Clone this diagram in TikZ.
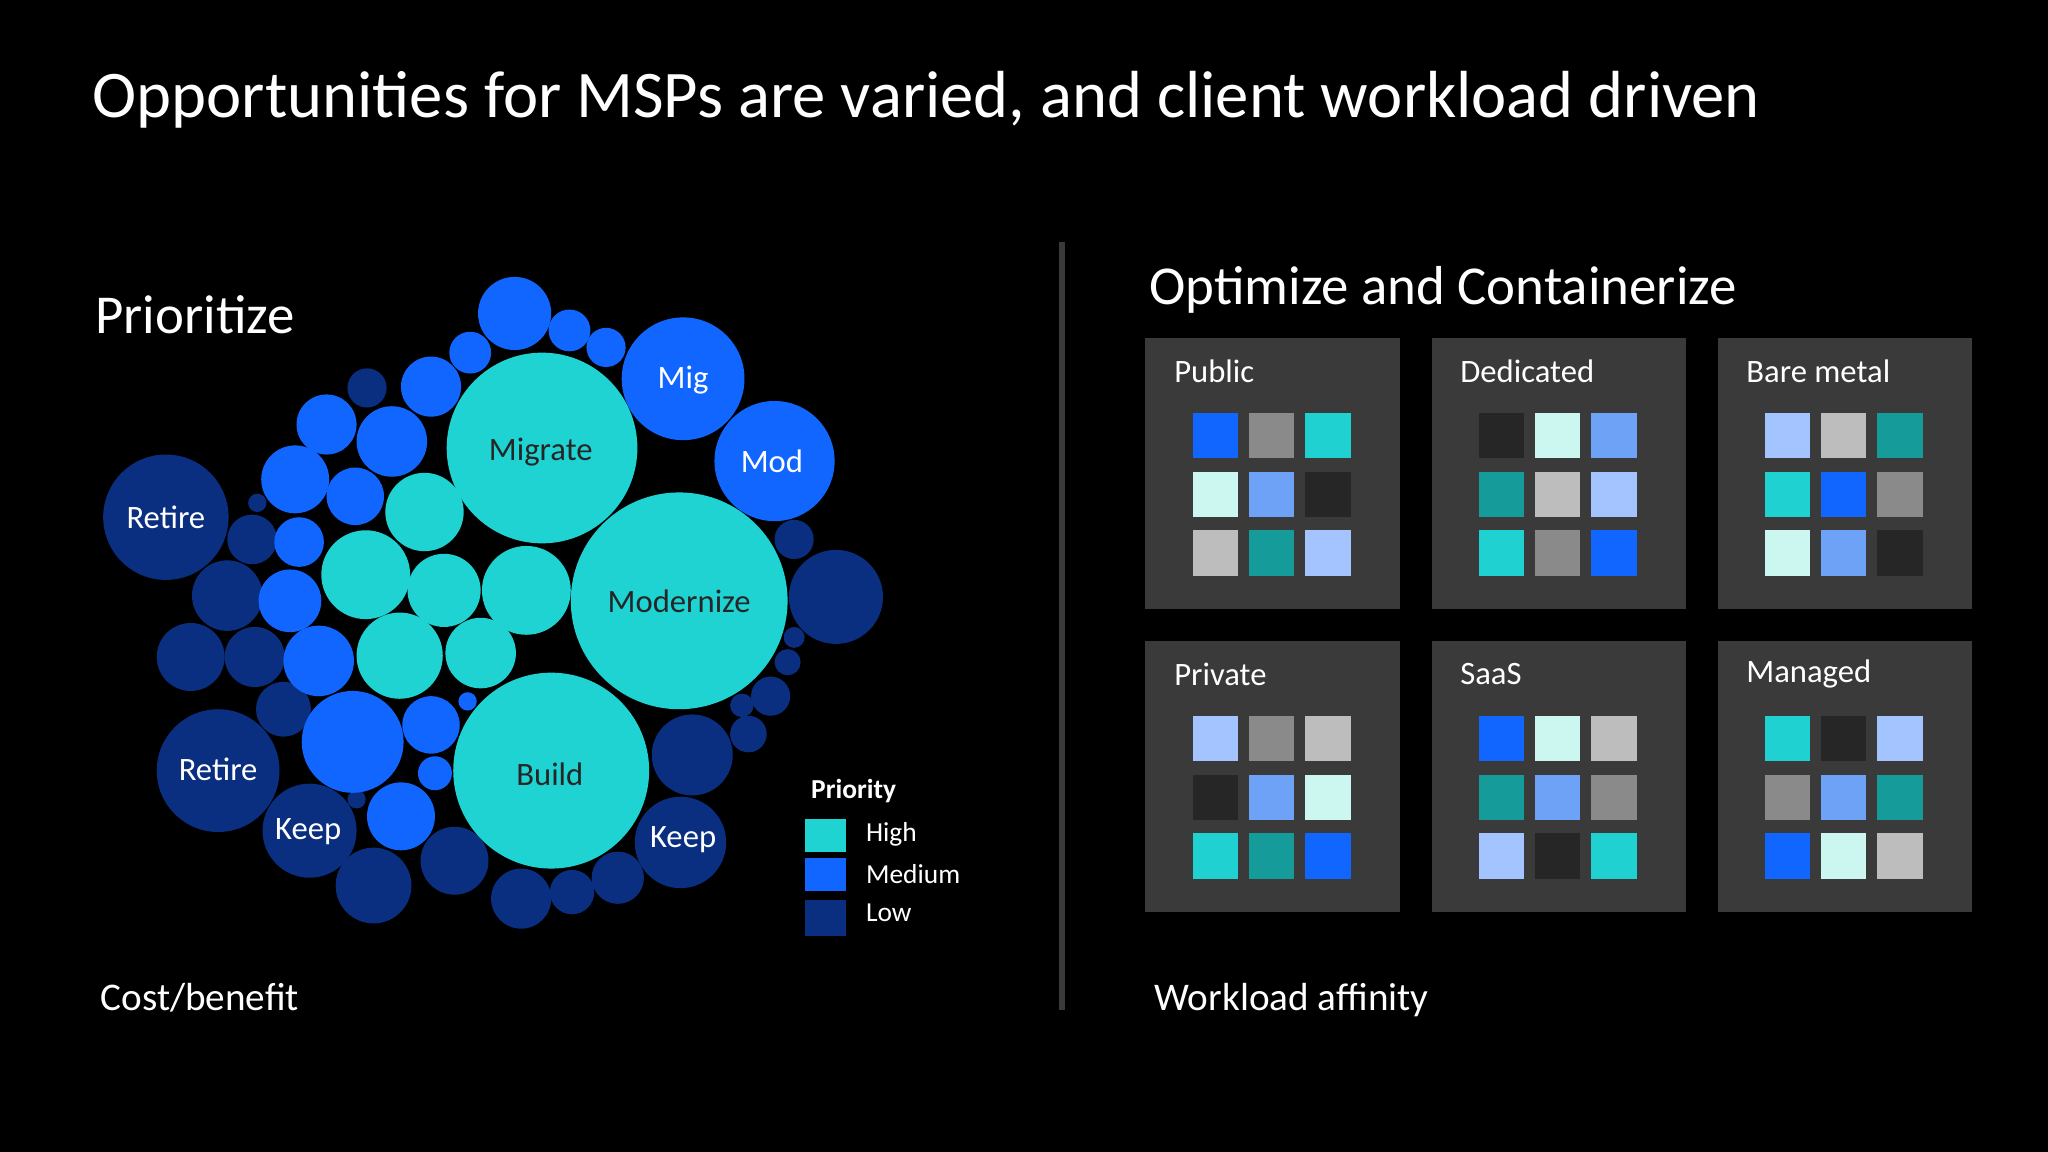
\documentclass[tikz,border=0pt]{standalone}
\usepackage{fontspec}
\setmainfont{Carlito}
\definecolor{hi}{HTML}{1FD3D3}
\definecolor{me}{HTML}{1166FF}
\definecolor{lo}{HTML}{0A2F80}
\definecolor{B}{HTML}{1166FF}
\definecolor{G}{HTML}{8A8A8A}
\definecolor{C}{HTML}{1FD1D1}
\definecolor{P}{HTML}{CCF6F0}
\definecolor{L}{HTML}{6EA2F6}
\definecolor{D}{HTML}{262626}
\definecolor{S}{HTML}{BDBDBD}
\definecolor{T}{HTML}{169B9B}
\definecolor{V}{HTML}{A3C4FF}
\definecolor{boxc}{HTML}{3A3A3A}
\begin{document}
\begin{tikzpicture}[x=0.5pt,y=-0.5pt,
  lbl/.style={text=white,font=\fontsize{12.5}{14}\selectfont},
  blbl/.style={text=D,font=\fontsize{12.5}{14}\selectfont},
  head/.style={text=white,font=\fontsize{21}{24}\selectfont,anchor=base west},
  foot/.style={text=white,font=\fontsize{15}{18}\selectfont,anchor=base west},
  box/.style={fill=boxc,draw=none}]
\fill[black] (0,0) rectangle (1568,882);
\node[text=white,font=\fontsize{25.5}{30}\selectfont,anchor=base west] (title) at (64,90) {Opportunities for MSPs are varied, and client workload driven};
\node[head] (pri) at (66,255) {Prioritize};
\node[head] (opt) at (873,233) {Optimize and Containerize};
\node[foot] (cb) at (70,774) {Cost/benefit};
\node[foot] (wa) at (877,774) {Workload affinity};
% bubbles
\foreach \x/\y/\r in {127/396/48,167/590/47,237/636/36,521/645/35,640/457/36,281/297/15,193/413/19,174/456/27,146/503/26,195/503/23,217/543/21,286/678/29,348/659/26,399/688/23,438/683/17,473/672/20,530/578/31,573/562/14,590/533/15,603/507/10,608/488/8,608/413/15,197/385/7,568/540/9,273/612/7}
  \fill[lo] (\x,\y) circle[radius=\r*0.5pt];
\foreach \x/\y/\r in {523/290/47,593/353/46,394/240/28,436/253/16,464/266/15,360/270/16,330/296/23,250/325/23,300/338/27,226/367/26,272/380/22,229/415/19,222/460/24,244/506/27,270/568/39,330/555/22,333/592/13,307/625/26,358/537/7}
  \fill[me] (\x,\y) circle[radius=\r*0.5pt];
\foreach \x/\y/\r in {415/343/73,520/460/83,422/590/75,325/392/30,280/440/34,340/452/28,403/452/34,306/502/33,368/500/27}
  \fill[hi] (\x,\y) circle[radius=\r*0.5pt];
\node[lbl] (l1) at (127,396) {Retire};
\node[lbl] (l2) at (167,589) {Retire};
\node[lbl] (l3) at (236,637) {Keep};
\node[lbl] (l4) at (523,643) {Keep};
\node[lbl] (l5) at (523,291) {Mig};
\node[lbl] (l6) at (591,353) {Mod};
\node[blbl] (l7) at (414,346) {Migrate};
\node[blbl] (l8) at (520,460) {Modernize};
\node[blbl] (l9) at (421,593) {Build};
% legend
\node[text=white,font=\bfseries\fontsize{10.5}{12}\selectfont,anchor=west] (lp) at (614,606) {Priority};
\fill[hi] (616,627) rectangle (648,652);
\fill[me] (616,657) rectangle (648,682);
\fill[lo] (616,689) rectangle (648,717);
\node[text=white,font=\fontsize{10.5}{12}\selectfont,anchor=west] (lh) at (656,639) {High};
\node[text=white,font=\fontsize{10.5}{12}\selectfont,anchor=west] (lm) at (656,669) {Medium};
\node[text=white,font=\fontsize{10.5}{12}\selectfont,anchor=west] (ll) at (656,699) {Low};
% divider
\draw[line width=2pt,draw=boxc] (813,185) -- (813,773);
% boxes
\newcommand\wbox[5]{%
  \fill[box] (#1,#2) rectangle ++(195,207);
  \node[text=white,font=\fontsize{12.5}{14}\selectfont,anchor=west] at (#1+15,#2+25) {#3};
  \foreach \c [count=\i from 0] in {#4} {
    \pgfmathtruncatemacro\cc{mod(\i,3)}\pgfmathtruncatemacro\rr{div(\i,3)}
    \fill[\c] (#1+36+43*\cc,#2+57+45*\rr) rectangle ++(35,35);
  }}
\wbox{877}{259}{Public}{B,G,C,P,L,D,S,T,V}{}
\wbox{1096}{259}{Dedicated}{D,P,L,T,S,V,C,G,B}{}
\wbox{1315}{259}{Bare metal}{V,S,T,C,B,G,P,L,D}{}
\wbox{877}{491}{Private}{V,G,S,D,L,P,C,T,B}{}
\wbox{1096}{491}{SaaS}{B,P,S,T,L,G,V,D,C}{}
\wbox{1315}{491}{Managed}{C,D,V,G,L,T,B,P,S}{}
\end{tikzpicture}
\end{document}
